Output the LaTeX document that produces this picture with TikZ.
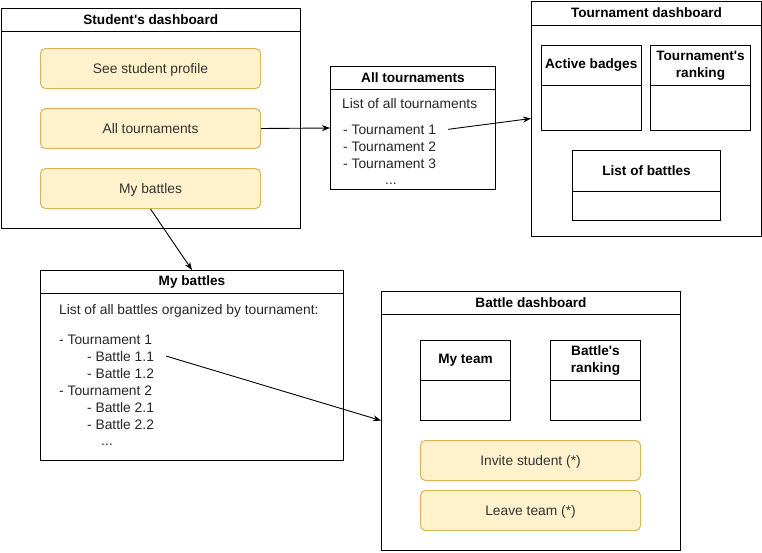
\documentclass[tikz,border=0pt]{standalone}
\usepackage{fontspec}
\setmainfont{Liberation Sans}
\usetikzlibrary{arrows.meta}

\definecolor{btnfill}{HTML}{FFF2CC}
\definecolor{btnline}{HTML}{D6B656}

\newcommand{\q}{\textquotesingle}

\tikzset{
  every node/.style={font=\fontsize{13.8}{17}\selectfont},
  frame/.style={draw, line width=1pt, anchor=north west, inner sep=0pt},
  title/.style={frame, font=\fontsize{13.6}{17}\selectfont\bfseries, align=center},
  button/.style={draw=btnline, fill=btnfill, line width=1pt, rounded corners=5pt,
    anchor=north west, minimum width=220pt, minimum height=40pt, text=black!80,
    text height=9.9pt, text depth=0pt},
  item/.style={anchor=base west, inner sep=0pt, text=black!85},
  link/.style={-{Stealth[length=8pt,width=6pt]}, line width=0.9pt},
}

\begin{document}
\begin{tikzpicture}[x=1pt,y=-1pt]
    \useasboundingbox (0,0) rectangle (762,552);

    % student's dashboard
    \node[frame, minimum width=299.5pt, minimum height=220pt] (sdash) at (0.5,8) {};
    \node[title, minimum width=299.5pt, minimum height=23pt] (sdash-t) at (sdash.north west) {Student\q s dashboard};
    \node[button] (profile) at (40,48) {See student profile};
    \node[button] (allbtn) at (40,108) {All tournaments};
    \node[button] (mybtn) at (40,168) {My battles};

    % all tournaments
    \node[frame, minimum width=165pt, minimum height=123pt] (allbox) at (330,66) {};
    \node[title, minimum width=165pt, minimum height=23pt] (allbox-t) at (allbox.north west) {All tournaments};
    \node[item] (all-l) at (342,108) {List of all tournaments};
    \node[item] (t1) at (343,134) {- Tournament 1};
    \node[item] (t2) at (343,151) {- Tournament 2};
    \node[item] (t3) at (343,168) {- Tournament 3};
    \node[item] (t-dots) at (385,184) {...};

    % tournament dashboard
    \node[frame, minimum width=230pt, minimum height=235pt] (tdash) at (531,0.5) {};
    \node[title, minimum width=230pt, minimum height=24pt] (tdash-t) at (tdash.north west) {Tournament dashboard};
    \node[frame, minimum width=99.5pt, minimum height=85pt] (badges) at (541,45) {};
    \node[title, minimum width=99.5pt, minimum height=40pt] (badges-t) at (badges.north west) {Active badges};
    \node[frame, minimum width=100pt, minimum height=85pt] (tranking) at (650,45) {};
    \node[title, minimum width=100pt, minimum height=40pt] (tranking-t) at (tranking.north west) {Tournament\q s\\ranking};
    \node[frame, minimum width=148pt, minimum height=70pt] (blist) at (572,150) {};
    \node[title, minimum width=148pt, minimum height=41pt] (blist-t) at (blist.north west) {List of battles};

    % my battles
    \node[frame, minimum width=303pt, minimum height=190pt] (mybox) at (40,270) {};
    \node[title, minimum width=303pt, minimum height=23pt] (mybox-t) at (mybox.north west) {My battles};
    \node[item] (my-l) at (59,314) {List of all battles organized by tournament:};
    \node[item] (mt1) at (59,344) {- Tournament 1};
    \node[item] (b11) at (87,361) {- Battle 1.1};
    \node[item] (b12) at (87,378) {- Battle 1.2};
    \node[item] (mt2) at (59,395) {- Tournament 2};
    \node[item] (b21) at (87,412) {- Battle 2.1};
    \node[item] (b22) at (87,429) {- Battle 2.2};
    \node[item] (b-dots) at (101,445) {...};

    % battle dashboard
    \node[frame, minimum width=299pt, minimum height=259pt] (bdash) at (381,290.5) {};
    \node[title, minimum width=299pt, minimum height=23pt] (bdash-t) at (bdash.north west) {Battle dashboard};
    \node[frame, minimum width=90pt, minimum height=80pt] (team) at (420,340) {};
    \node[title, minimum width=90pt, minimum height=40pt] (team-t) at (team.north west) {My team};
    \node[frame, minimum width=90pt, minimum height=80pt] (branking) at (550,340) {};
    \node[title, minimum width=90pt, minimum height=40pt] (branking-t) at (branking.north west) {Battle\q s\\ranking};
    \node[button] (invite) at (420,440) {Invite student (*)};
    \node[button] (leave) at (420,490) {Leave team (*)};

    % links
    \draw[link] (allbtn.east) -- (allbox.west);
    \draw[link] ([xshift=12pt]t1.east) -- (tdash.west);
    \draw[link] (mybtn.south) -- (mybox.north);
    \draw[link] ([xshift=12pt]b11.east) -- (bdash.west);

\end{tikzpicture}
\end{document}
